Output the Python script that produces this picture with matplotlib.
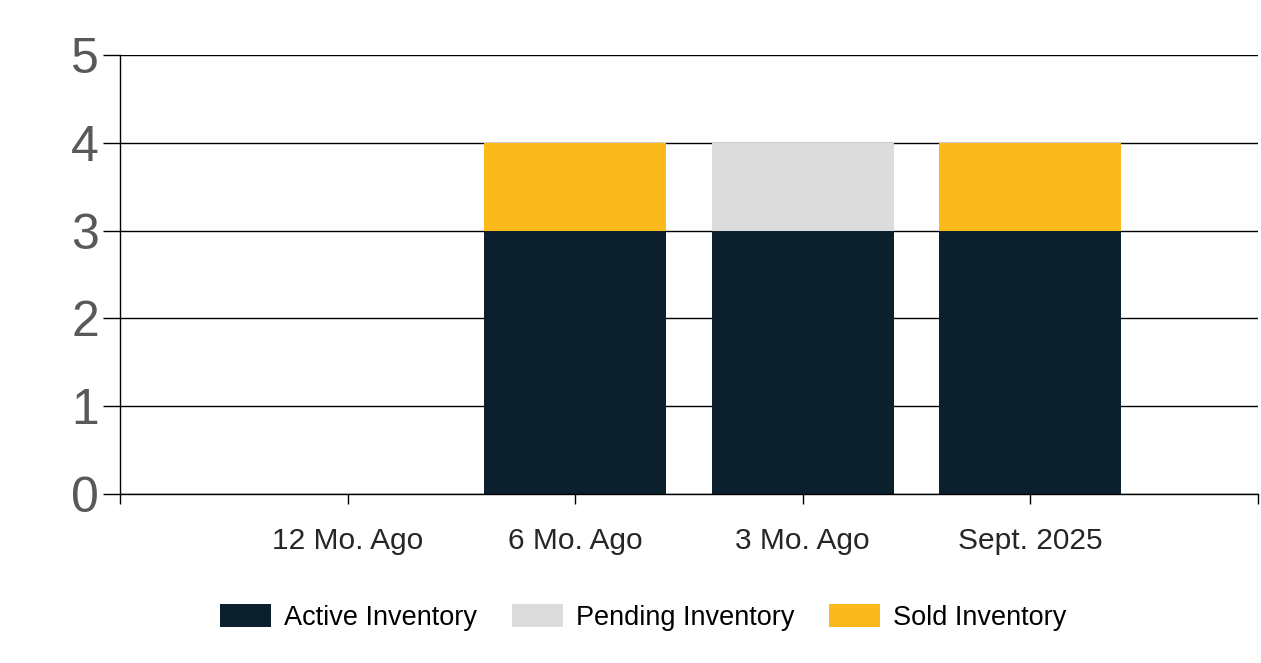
import matplotlib.pyplot as plt
import numpy as np

plt.rcParams['font.family'] = ['Liberation Sans', 'DejaVu Sans']

# Data
categories = ['12 Mo. Ago', '6 Mo. Ago', '3 Mo. Ago', 'Sept. 2025']
active = [0, 3, 3, 3]
pending = [0, 0, 1, 0]
sold = [0, 1, 0, 1]

fig = plt.figure(figsize=(12.61, 6.63), dpi=100)
ax = fig.add_axes([0.0952, 0.2549, 0.9024, 0.662])

x = np.arange(len(categories))
bottom2 = np.array(active) + np.array(pending)
ax.bar(x, active, width=0.8, color='#0b1f2c', label='Active Inventory', zorder=2)
ax.bar(x, pending, width=0.8, bottom=active, color='#dcdcdc', label='Pending Inventory', zorder=2)
ax.bar(x, sold, width=0.8, bottom=bottom2, color='#fbb91b', label='Sold Inventory', zorder=2)

ax.set_xlim(-1, 4)
ax.set_ylim(0, 5)

# x ticks: category labels plus plain ticks at the axis ends
ax.set_xticks(list(x) + [-1, 4])
ax.set_xticklabels(categories + ['', ''], fontsize=21.5, color='#262626')
ax.tick_params(axis='x', length=7, width=1, color='black', pad=17)

ax.set_yticks(range(6))
ax.set_yticklabels([str(v) for v in range(6)], fontsize=36, color='#595959')
ax.tick_params(axis='y', length=12, width=1, color='black', pad=3)

ax.grid(axis='y', color='black', linewidth=1, zorder=0)
ax.set_axisbelow(True)
for side in ['top', 'right']:
    ax.spines[side].set_visible(False)
ax.spines['left'].set_linewidth(1)
ax.spines['bottom'].set_linewidth(1)

fig.legend(loc='lower center', bbox_to_anchor=(0.51, 0.012), ncol=3, frameon=False,
           fontsize=19.5, handlelength=1.88, handleheight=0.9, columnspacing=1.29,
           handletextpad=0.48)

fig.savefig('out.png', dpi=100)
